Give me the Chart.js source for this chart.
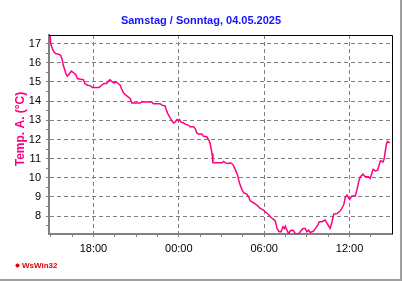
<!DOCTYPE html>
<html>
<head>
<meta charset="utf-8">
<script src="https://cdn.jsdelivr.net/npm/chart.js@4"></script>
<style>
  html, body { margin: 0; padding: 0; background: #fff; }
</style>
</head>
<body>
<canvas id="tempChart" width="404" height="281"></canvas>
<script>
// Messzeitpunkte (Sa 15:00 bis So 15:00) und Aussentemperatur in °C
const times = [
  '14:57', '15:00', '15:07', '15:14', '15:21', '15:35', '15:42', '15:49', '15:53', '16:04',
  '16:10', '16:17', '16:27', '16:38', '16:46', '16:52', '17:07', '17:18', '17:24', '17:35',
  '17:46', '17:56', '18:24', '18:34', '18:45', '18:56', '19:03', '19:10', '19:20', '19:27',
  '19:35', '19:44', '19:53', '19:58', '20:07', '20:17', '20:26', '20:35', '20:42', '21:17',
  '21:24', '22:06', '22:13', '22:41', '22:49', '23:02', '23:07', '23:12', '23:21', '23:31',
  '23:38', '23:45', '23:52', '23:59', '00:03', '00:09', '00:20', '00:27', '00:41', '00:48',
  '01:02', '01:09', '01:16', '01:23', '01:37', '01:44', '01:58', '02:05', '02:12', '02:20',
  '02:24', '03:02', '03:09', '03:16', '03:30', '03:37', '03:48', '03:58', '04:08', '04:16',
  '04:26', '04:33', '04:47', '04:54', '05:01', '05:15', '05:29', '05:43', '05:57', '06:04',
  '06:18', '06:28', '06:39', '06:47', '06:54', '07:03', '07:11', '07:19', '07:25', '07:29',
  '07:36', '07:43', '07:50', '08:01', '08:11', '08:25', '08:32', '08:43', '08:53', '09:00',
  '09:07', '09:14', '09:28', '09:43', '09:53', '10:04', '10:17', '10:25', '10:38', '10:46',
  '10:53', '11:07', '11:21', '11:35', '11:42', '11:49', '12:00', '12:10', '12:24', '12:31',
  '12:38', '12:45', '12:56', '13:06', '13:20', '13:27', '13:39', '13:49', '13:58', '14:10',
  '14:21', '14:26', '14:35', '14:40', '14:49'
];
const temps = [
  17.45, 17.0, 16.74, 16.56, 16.48, 16.44, 16.39, 16.13, 15.87, 15.44,
  15.30, 15.40, 15.57, 15.47, 15.38, 15.18, 15.14, 15.12, 14.92, 14.83,
  14.81, 14.71, 14.71, 14.83, 14.92, 14.92, 15.05, 15.12, 15.00, 14.95,
  15.00, 14.92, 14.83, 14.66, 14.43, 14.31, 14.22, 14.14, 13.90, 13.90,
  13.96, 13.96, 13.87, 13.87, 13.79, 13.75, 13.56, 13.39, 13.18, 12.97,
  12.86, 12.92, 13.04, 12.97, 13.04, 12.92, 12.86, 12.80, 12.74, 12.66,
  12.66, 12.57, 12.34, 12.28, 12.28, 12.17, 12.14, 12.00, 11.80, 11.27,
  10.78, 10.78, 10.85, 10.78, 10.75, 10.78, 10.70, 10.44, 10.14, 9.71,
  9.40, 9.22, 9.15, 9.01, 8.80, 8.70, 8.58, 8.41, 8.32, 8.23,
  8.09, 7.94, 7.83, 7.74, 7.36, 7.19, 7.19, 7.45, 7.36, 7.48,
  7.27, 7.08, 7.24, 7.27, 7.10, 7.08, 7.19, 7.36, 7.36, 7.19,
  7.27, 7.15, 7.22, 7.48, 7.71, 7.71, 7.80, 7.62, 7.36, 7.71,
  8.11, 8.14, 8.28, 8.58, 8.98, 9.10, 8.88, 9.05, 9.05, 9.36,
  9.79, 10.05, 10.19, 10.05, 10.05, 9.97, 10.44, 10.36, 10.40, 10.89,
  10.83, 11.01, 11.75, 11.90, 11.82
];
const xTickHours = [18, 24, 30, 36];
const xTickLabels = ['18:00', '00:00', '06:00', '12:00'];
const yTickValues = [8, 9, 10, 11, 12, 13, 14, 15, 16, 17];

// Uhrzeiten in fortlaufende Stunden umrechnen (Tageswechsel um Mitternacht)
let dayOffset = 0, prevHour = -1;
const hours = times.map(t => {
  const [h, m] = t.split(':').map(Number);
  let v = h + m / 60 + dayOffset;
  if (v < prevHour) { dayOffset += 24; v += 24; }
  prevHour = v;
  return v;
});

const isMajorX = v => xTickHours.some(h => Math.abs(h - v) < 1e-6);
const isMajorY = v => yTickValues.some(h => Math.abs(h - v) < 1e-6);

const decor = {
  id: 'decor',
  beforeDraw(chart) {
    const c = chart.ctx;
    c.save();
    c.fillStyle = '#fff';
    c.fillRect(0, 0, chart.width, chart.height);
    c.restore();
  },
  afterDraw(chart) {
    const c = chart.ctx;
    const a = chart.chartArea;
    c.save();
    // Rahmen oben/rechts
    c.strokeStyle = '#000';
    c.lineWidth = 1;
    c.beginPath();
    c.moveTo(a.left, a.top + 0.5);
    c.lineTo(a.right + 0.5, a.top + 0.5);
    c.lineTo(a.right + 0.5, a.bottom);
    c.stroke();
    // Fensterrand
    c.strokeStyle = '#a0a0a0';
    c.lineWidth = 2;
    c.beginPath();
    c.moveTo(0, 280);
    c.lineTo(401, 280);
    c.lineTo(401, 0);
    c.stroke();
    // Titel
    c.fillStyle = '#1414ff';
    c.font = 'bold 11px Arial, "Liberation Sans", sans-serif';
    c.textAlign = 'center';
    c.textBaseline = 'middle';
    c.fillText('Samstag / Sonntag, 04.05.2025', 201, 21);
    // Achsentitel
    c.save();
    c.translate(21, 129);
    c.rotate(-Math.PI / 2);
    c.fillStyle = '#ff0080';
    c.font = 'bold 12px Arial, "Liberation Sans", sans-serif';
    c.fillText('Temp. A. (°C)', 0, 0);
    c.restore();
    // Logo
    c.fillStyle = '#e00000';
    c.beginPath();
    c.arc(17.5, 265.5, 2, 0, Math.PI * 2);
    c.fill();
    c.font = 'bold 8px Arial, "Liberation Sans", sans-serif';
    c.textAlign = 'left';
    c.fillText('WsWin32', 22, 266);
    c.restore();
  }
};

new Chart(document.getElementById('tempChart'), {
  type: 'line',
  data: {
    datasets: [{
      data: hours.map((h, i) => ({ x: h, y: temps[i] })),
      borderColor: '#ff0080',
      borderWidth: 1.5,
      pointRadius: 0,
      tension: 0,
      fill: false
    }]
  },
  options: {
    responsive: false,
    animation: false,
    layout: { padding: { top: 35, right: 12, left: 0, bottom: 0 } },
    plugins: { legend: { display: false }, title: { display: false }, tooltip: { enabled: false } },
    scales: {
      x: {
        type: 'linear',
        min: 14.88,
        max: 38.98,
        afterFit(s) { s.height = 47; },
        border: { color: '#808080', width: 2, dash: [4, 3] },
        grid: {
          color: ctx => isMajorX(ctx.tick.value) ? '#808080' : 'rgba(0,0,0,0)',
          tickColor: '#808080',
          tickBorderDash: [],
          tickLength: 3,
          lineWidth: 1
        },
        ticks: {
          stepSize: 1.5,
          includeBounds: false,
          autoSkip: false,
          maxRotation: 0,
          padding: 5,
          color: '#000',
          font: { family: 'Arial, "Liberation Sans", sans-serif', size: 11 },
          callback: v => { const i = xTickHours.findIndex(h => Math.abs(h - v) < 1e-6); return i >= 0 ? xTickLabels[i] : ''; }
        }
      },
      y: {
        min: 7.07,
        max: 17.45,
        afterFit(s) { s.width = 49; },
        border: { color: '#808080', width: 2, dash: [4, 3] },
        grid: {
          color: ctx => isMajorY(ctx.tick.value) ? '#808080' : 'rgba(0,0,0,0)',
          tickColor: '#808080',
          tickBorderDash: [],
          tickLength: 3,
          lineWidth: 1
        },
        ticks: {
          stepSize: 0.5,
          includeBounds: false,
          autoSkip: false,
          padding: 5,
          color: '#000',
          font: { family: 'Arial, "Liberation Sans", sans-serif', size: 11 },
          callback: v => isMajorY(v) ? String(v) : ''
        }
      }
    }
  },
  plugins: [decor]
});
</script>
</body>
</html>
